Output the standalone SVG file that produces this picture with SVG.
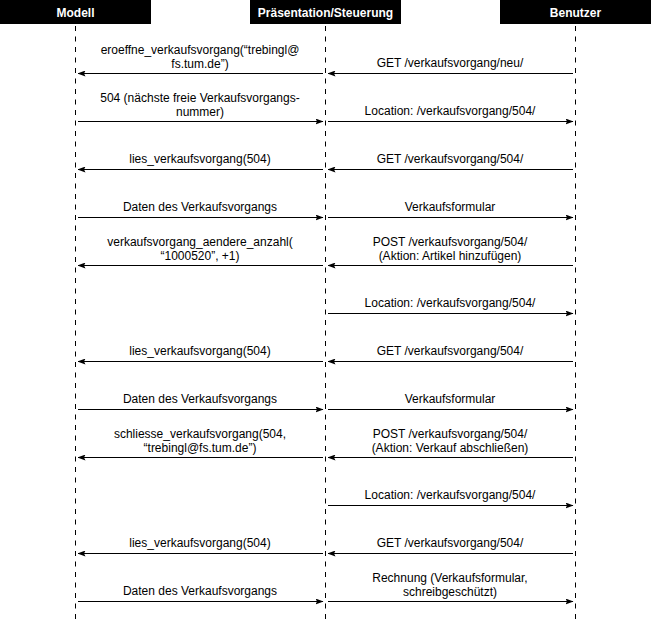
<svg xmlns="http://www.w3.org/2000/svg" width="651" height="623" viewBox="0 0 651 623">
<style>
.hdr{fill:#000}
.ht{fill:#fff;font-family:"Liberation Sans",Arial,sans-serif;font-size:12px;font-weight:bold;text-anchor:middle}
.life{stroke:#000;stroke-width:1;stroke-dasharray:5 5.5;fill:none}
.msg{stroke:#000;stroke-width:1;fill:none;marker-end:url(#ah)}
.lbl{fill:#000;font-family:"Liberation Sans",Arial,sans-serif;font-size:12px;text-anchor:middle}
</style>
<defs>
<marker id="ah" viewBox="0 0 8 6" refX="7.5" refY="3" markerWidth="8" markerHeight="6" markerUnits="userSpaceOnUse" orient="auto">
<path d="M0,0 L8,3 L0,6 L1.5,3 Z" fill="#000"/>
</marker>
</defs>
<rect width="651" height="623" fill="#fff"/>
<g id="modell">
<rect class="hdr" x="0" y="0" width="151" height="24"/>
<text class="ht" x="75.5" y="16.5">Modell</text>
<line class="life" x1="75.5" y1="26" x2="75.5" y2="623"/>
</g>
<g id="praesentation">
<rect class="hdr" x="250" y="0" width="151" height="24"/>
<text class="ht" x="325.5" y="16.5">Präsentation/Steuerung</text>
<line class="life" x1="325.5" y1="26" x2="325.5" y2="623"/>
</g>
<g id="benutzer">
<rect class="hdr" x="500" y="0" width="151" height="24"/>
<text class="ht" x="575.5" y="16.5">Benutzer</text>
<line class="life" x1="575.5" y1="26" x2="575.5" y2="623"/>
</g>
<g id="connectors">
<line class="msg" x1="323" y1="73.5" x2="78" y2="73.5"/>
<text class="lbl" x="200" y="53.5">eroeffne_verkaufsvorgang(“trebingl@</text>
<text class="lbl" x="200" y="68">fs.tum.de”)</text>
<line class="msg" x1="573" y1="73.5" x2="328" y2="73.5"/>
<text class="lbl" x="450" y="66.5">GET /verkaufsvorgang/neu/</text>
<line class="msg" x1="78" y1="121.5" x2="323" y2="121.5"/>
<text class="lbl" x="200" y="101.5">504 (nächste freie Verkaufsvorgangs-</text>
<text class="lbl" x="200" y="116">nummer)</text>
<line class="msg" x1="328" y1="121.5" x2="573" y2="121.5"/>
<text class="lbl" x="450" y="114.5">Location: /verkaufsvorgang/504/</text>
<line class="msg" x1="323" y1="169.5" x2="78" y2="169.5"/>
<text class="lbl" x="200" y="162.5">lies_verkaufsvorgang(504)</text>
<line class="msg" x1="573" y1="169.5" x2="328" y2="169.5"/>
<text class="lbl" x="450" y="162.5">GET /verkaufsvorgang/504/</text>
<line class="msg" x1="78" y1="217.5" x2="323" y2="217.5"/>
<text class="lbl" x="200" y="210.5">Daten des Verkaufsvorgangs</text>
<line class="msg" x1="328" y1="217.5" x2="573" y2="217.5"/>
<text class="lbl" x="450" y="210.5">Verkaufsformular</text>
<line class="msg" x1="323" y1="265.5" x2="78" y2="265.5"/>
<text class="lbl" x="200" y="245.5">verkaufsvorgang_aendere_anzahl(</text>
<text class="lbl" x="200" y="260">“1000520”, +1)</text>
<line class="msg" x1="573" y1="265.5" x2="328" y2="265.5"/>
<text class="lbl" x="450" y="245.5">POST /verkaufsvorgang/504/</text>
<text class="lbl" x="450" y="260">(Aktion: Artikel hinzufügen)</text>
<line class="msg" x1="328" y1="313.5" x2="573" y2="313.5"/>
<text class="lbl" x="450" y="306.5">Location: /verkaufsvorgang/504/</text>
<line class="msg" x1="323" y1="361.5" x2="78" y2="361.5"/>
<text class="lbl" x="200" y="354.5">lies_verkaufsvorgang(504)</text>
<line class="msg" x1="573" y1="361.5" x2="328" y2="361.5"/>
<text class="lbl" x="450" y="354.5">GET /verkaufsvorgang/504/</text>
<line class="msg" x1="78" y1="409.5" x2="323" y2="409.5"/>
<text class="lbl" x="200" y="402.5">Daten des Verkaufsvorgangs</text>
<line class="msg" x1="328" y1="409.5" x2="573" y2="409.5"/>
<text class="lbl" x="450" y="402.5">Verkaufsformular</text>
<line class="msg" x1="323" y1="457.5" x2="78" y2="457.5"/>
<text class="lbl" x="200" y="437.5">schliesse_verkaufsvorgang(504,</text>
<text class="lbl" x="200" y="452">“trebingl@fs.tum.de”)</text>
<line class="msg" x1="573" y1="457.5" x2="328" y2="457.5"/>
<text class="lbl" x="450" y="437.5">POST /verkaufsvorgang/504/</text>
<text class="lbl" x="450" y="452">(Aktion: Verkauf abschließen)</text>
<line class="msg" x1="328" y1="505.5" x2="573" y2="505.5"/>
<text class="lbl" x="450" y="498.5">Location: /verkaufsvorgang/504/</text>
<line class="msg" x1="323" y1="553.5" x2="78" y2="553.5"/>
<text class="lbl" x="200" y="546.5">lies_verkaufsvorgang(504)</text>
<line class="msg" x1="573" y1="553.5" x2="328" y2="553.5"/>
<text class="lbl" x="450" y="546.5">GET /verkaufsvorgang/504/</text>
<line class="msg" x1="78" y1="601.5" x2="323" y2="601.5"/>
<text class="lbl" x="200" y="594.5">Daten des Verkaufsvorgangs</text>
<line class="msg" x1="328" y1="601.5" x2="573" y2="601.5"/>
<text class="lbl" x="450" y="581.5">Rechnung (Verkaufsformular,</text>
<text class="lbl" x="450" y="596">schreibgeschützt)</text>
</g>
</svg>
